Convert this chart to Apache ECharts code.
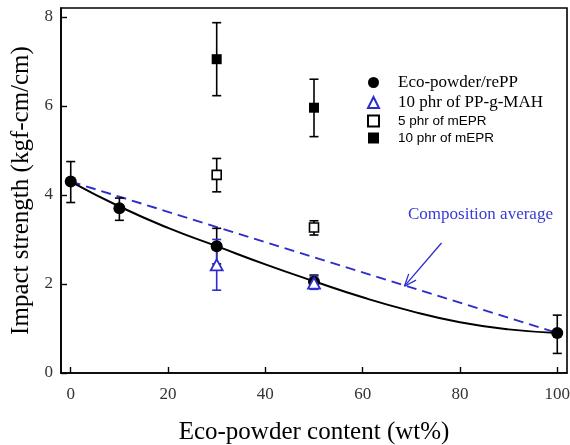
<!DOCTYPE html>
<html>
<head>
<meta charset="utf-8">
<script src="https://cdn.jsdelivr.net/npm/echarts@6/dist/echarts.min.js"></script>
<style>
  html, body { margin: 0; padding: 0; background: #fff; }
  #chart { width: 570px; height: 445px; }
</style>
</head>
<body>
<div id="chart"></div>
<script>
// measured points: [x, y, low, high]
const ecoPowder = [[0, 4.3, 3.83, 4.75], [10, 3.7, 3.43, 3.93], [30, 2.85, 2.45, 3.25], [50, 2.05, 1.92, 2.2], [100, 0.9, 0.44, 1.3]]
const ppgMah = [[30, 2.43, 1.86, 3.0], [50, 2.02, 1.88, 2.18]]
const mepr5 = [[30, 4.45, 4.07, 4.82], [50, 3.27, 3.1, 3.42]]
const mepr10 = [[30, 7.05, 6.23, 7.87], [50, 5.96, 5.31, 6.6]]

// fitted curve
const fitX = [0, 10, 20, 30, 40, 50, 60, 70, 80, 90, 100]
const fitY = [4.3, 3.74, 3.26, 2.85, 2.44, 2.06, 1.7, 1.39, 1.14, 0.98, 0.9]

// composition average (straight dashed line)
const avgLine = [[0, 4.3], [100, 0.9]]
const arrowPts = [[76.2, 2.92, 68.6, 1.95]]

const xTicks = [0, 20, 40, 60, 80, 100]
const yTicks = [0, 2, 4, 6, 8]

const BLUE = '#2d2dcc'
const BLACK = '#000'
const serif = 'Liberation Serif'
const sans = 'Liberation Sans'

function errBars(color) {
	return function (params, api) {
		const x = api.value(0)
		const lo = api.coord([x, api.value(1)])
		const hi = api.coord([x, api.value(2)])
		const w = 4.5
		const st = { stroke: color, lineWidth: 1.6 }
		return {
			type: 'group',
			children: [
				{ type: 'line', shape: { x1: lo[0], y1: lo[1], x2: hi[0], y2: hi[1] }, style: st },
				{ type: 'line', shape: { x1: lo[0] - w, y1: lo[1], x2: lo[0] + w, y2: lo[1] }, style: st },
				{ type: 'line', shape: { x1: hi[0] - w, y1: hi[1], x2: hi[0] + w, y2: hi[1] }, style: st },
			],
		}
	}
}

function errSeries(list, color) {
	return {
		type: 'custom',
		renderItem: errBars(color),
		data: list.map((d) => [d[0], d[2], d[3]]),
		encode: { x: 0, y: [1, 2] },
		z: 2,
		silent: true,
	}
}

function arrowRender(params, api) {
	const a = api.coord([api.value(0), api.value(1)])
	const b = api.coord([api.value(2), api.value(3)])
	const ang = Math.atan2(b[1] - a[1], b[0] - a[0])
	const len = 13
	const spread = 0.38
	const st = { stroke: BLUE, lineWidth: 1.3 }
	const h1 = [b[0] - len * Math.cos(ang - spread), b[1] - len * Math.sin(ang - spread)]
	const h2 = [b[0] - len * Math.cos(ang + spread), b[1] - len * Math.sin(ang + spread)]
	return {
		type: 'group',
		children: [
			{ type: 'line', shape: { x1: a[0], y1: a[1], x2: b[0], y2: b[1] }, style: st },
			{ type: 'line', shape: { x1: b[0], y1: b[1], x2: h1[0], y2: h1[1] }, style: st },
			{ type: 'line', shape: { x1: b[0], y1: b[1], x2: h2[0], y2: h2[1] }, style: st },
		],
	}
}

const chart = echarts.init(document.getElementById('chart'))
chart.setOption({
	animation: false,
	backgroundColor: '#fff',
	grid: {
		left: 61,
		right: 3,
		top: 8,
		bottom: 72,
		containLabel: false,
		outerBoundsMode: 'none',
		show: true,
		borderColor: BLACK,
		borderWidth: 1.6,
	},
	legend: {
		orient: 'vertical',
		left: 362,
		top: 69,
		itemWidth: 11,
		itemHeight: 11,
		itemGap: 3,
		selectedMode: false,
		textStyle: { color: BLACK },
		data: [
			{ name: 'Eco-powder/rePP', textStyle: { fontFamily: serif, fontSize: 17, padding: [0, 0, 0, 14] } },
			{ name: '10 phr of PP-g-MAH', textStyle: { fontFamily: serif, fontSize: 17, padding: [0, 0, 0, 14] } },
			{ name: '5 phr of mEPR', textStyle: { fontFamily: sans, fontSize: 13.5, padding: [0, 0, 0, 14] } },
			{ name: '10 phr of mEPR', textStyle: { fontFamily: sans, fontSize: 13.5, padding: [0, 0, 0, 14] } },
		],
	},
	xAxis: {
		type: 'value',
		min: -2,
		max: 102,
		name: 'Eco-powder content (wt%)',
		nameLocation: 'middle',
		nameGap: 47,
		nameTextStyle: { fontFamily: serif, fontSize: 25, color: BLACK },
		axisLine: { show: true, onZero: false, lineStyle: { color: BLACK, width: 1.6 } },
		axisTick: { show: true, inside: true, length: 6, lineStyle: { color: BLACK, width: 1.4 }, customValues: xTicks },
		axisLabel: { fontFamily: serif, fontSize: 17, color: '#333', margin: 13, customValues: xTicks },
		splitLine: { show: false },
	},
	yAxis: {
		type: 'value',
		min: 0,
		max: 8.2,
		name: 'Impact strength (kgf-cm/cm)',
		nameLocation: 'middle',
		nameGap: 25,
		nameTextStyle: { fontFamily: serif, fontSize: 25, color: BLACK },
		axisLine: { show: true, onZero: false, lineStyle: { color: BLACK, width: 1.6 } },
		axisTick: { show: true, inside: true, length: 6, lineStyle: { color: BLACK, width: 1.4 }, customValues: yTicks },
		axisLabel: { fontFamily: serif, fontSize: 17, color: '#333', margin: 8, customValues: yTicks },
		splitLine: { show: false },
	},
	graphic: [
		{
			type: 'text',
			left: 408,
			top: 206,
			style: { text: 'Composition average', fontFamily: serif, fontSize: 17, fill: '#3a3ad6' },
		},
	],
	series: [
		{
			type: 'line',
			data: avgLine,
			symbol: 'none',
			lineStyle: { color: BLUE, width: 2, type: [10, 6] },
			z: 1,
			silent: true,
		},
		{
			type: 'line',
			data: fitX.map((x, i) => [x, fitY[i]]),
			symbol: 'none',
			smooth: true,
			lineStyle: { color: BLACK, width: 2 },
			z: 1,
			silent: true,
		},
		{
			type: 'custom',
			renderItem: arrowRender,
			data: arrowPts,
			encode: { x: [0, 2], y: [1, 3] },
			silent: true,
		},
		errSeries(ecoPowder, BLACK),
		errSeries(ppgMah, BLUE),
		errSeries(mepr5, BLACK),
		errSeries(mepr10, BLACK),
		{
			name: 'Eco-powder/rePP',
			type: 'scatter',
			symbol: 'circle',
			symbolSize: 12,
			itemStyle: { color: BLACK, opacity: 1 },
			data: ecoPowder.map((d) => [d[0], d[1]]),
			z: 4,
		},
		{
			name: '10 phr of PP-g-MAH',
			type: 'scatter',
			symbol: 'triangle',
			symbolSize: [12, 11],
			itemStyle: { color: '#fff', borderColor: BLUE, borderWidth: 1.8, opacity: 1 },
			data: ppgMah.map((d) => [d[0], d[1]]),
			z: 5,
		},
		{
			name: '5 phr of mEPR',
			type: 'scatter',
			symbol: 'rect',
			symbolSize: 9,
			itemStyle: { color: '#fff', borderColor: BLACK, borderWidth: 1.6, opacity: 1 },
			data: mepr5.map((d) => [d[0], d[1]]),
			z: 4,
		},
		{
			name: '10 phr of mEPR',
			type: 'scatter',
			symbol: 'rect',
			symbolSize: 10,
			itemStyle: { color: BLACK, opacity: 1 },
			data: mepr10.map((d) => [d[0], d[1]]),
			z: 4,
		},
	],
})
</script>
</body>
</html>
